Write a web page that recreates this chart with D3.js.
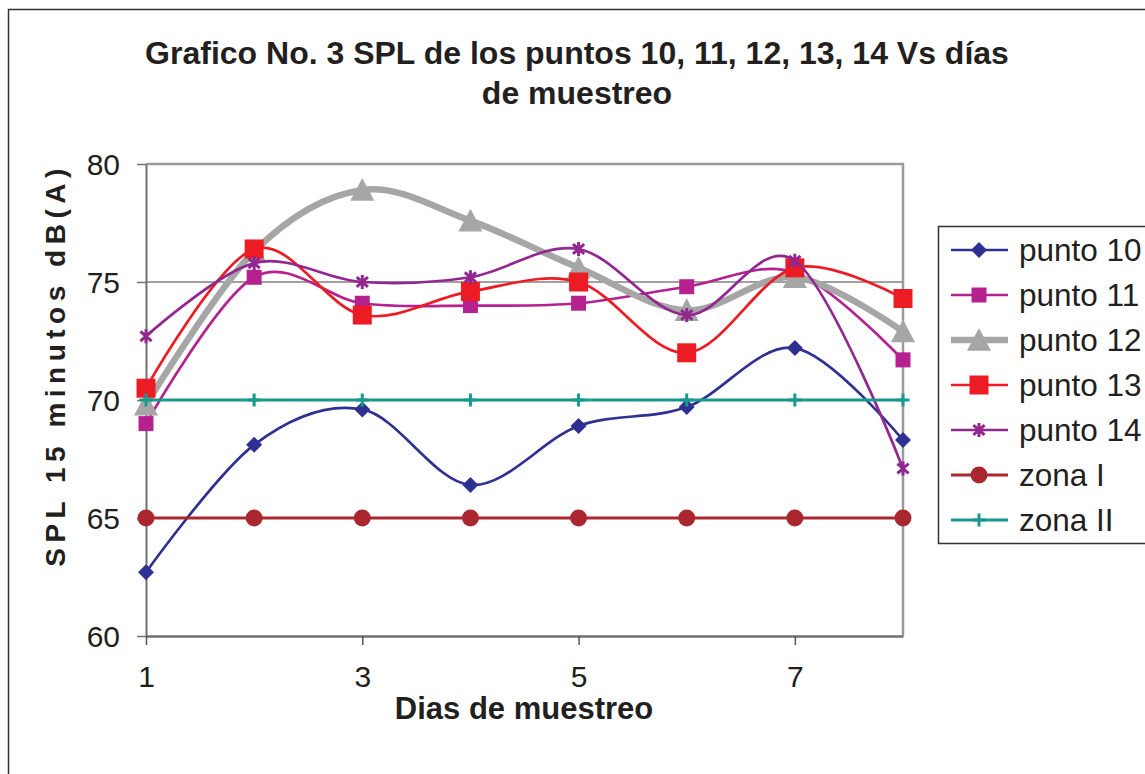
<!DOCTYPE html>
<html>
<head>
<meta charset="utf-8">
<script src="https://cdn.jsdelivr.net/npm/d3@7"></script>
<style>
  body { margin: 0; background: #fff; }
  svg { display: block; font-family: "Liberation Sans", Arial, sans-serif; }
</style>
</head>
<body>
<svg id="chart" width="1145" height="774"></svg>
<script>
// sampling days and tick labels
var days = [1, 2, 3, 4, 5, 6, 7, 8];
var xTicks = [1, 3, 5, 7];
var yTicks = [60, 65, 70, 75, 80];

// SPL values, dB(A)
var punto10 = [62.7, 68.1, 69.6, 66.4, 68.9, 69.7, 72.2, 68.3];
var punto11 = [69.0, 75.2, 74.1, 74.0, 74.1, 74.8, 75.4, 71.7];
var punto12 = [69.8, 76.3, 78.9, 77.6, 75.6, 73.8, 75.2, 72.9];
var punto13 = [70.5, 76.4, 73.6, 74.6, 75.0, 72.0, 75.6, 74.3];
var punto14 = [72.7, 75.8, 75.0, 75.2, 76.4, 73.6, 75.9, 67.1];
var zonaI   = [65, 65, 65, 65, 65, 65, 65, 65];
var zonaII  = [70, 70, 70, 70, 70, 70, 70, 70];

var seriesNames = ["punto 10", "punto 11", "punto 12", "punto 13", "punto 14", "zona I", "zona II"];
var seriesValues = [punto10, punto11, punto12, punto13, punto14, zonaI, zonaII];

// look of each series
var styles = [
    { color: "#2e3192", width: 2.7, shape: "diamond", size: 8 },
    { color: "#b5228f", width: 2.7, shape: "square", size: 7.5 },
    { color: "#a6a6a6", width: 6.5, shape: "triangle", size: 12 },
    { color: "#ed1c24", width: 2.7, shape: "square", size: 9.5 },
    { color: "#92278f", width: 2.7, shape: "asterisk", size: 7 },
    { color: "#ab2730", width: 3, shape: "circle", size: 8.5 },
    { color: "#1a9a8f", width: 3, shape: "plus", size: 6.5 }
];

var svg = d3.select("#chart");

// outer chart frame
svg.append("rect")
    .attr("x", 8.5).attr("y", 9.5)
    .attr("width", 1160).attr("height", 800)
    .attr("fill", "#fff")
    .attr("stroke", "#333")
    .attr("stroke-width", 1.5);

// title
var title = svg.append("text")
    .attr("text-anchor", "middle")
    .attr("font-weight", "bold")
    .attr("font-size", "32px")
    .attr("fill", "#231f20");
title.append("tspan").attr("x", 577).attr("y", 64).text("Grafico No. 3 SPL de los puntos 10, 11, 12, 13, 14 Vs días");
title.append("tspan").attr("x", 577).attr("y", 104).text("de muestreo");

var margin = { left: 146, right: 903, top: 164, bottom: 636 };

var x = d3.scaleLinear()
    .domain([1, 8])
    .range([margin.left, margin.right]);

var y = d3.scaleLinear()
    .domain([60, 80])
    .range([margin.bottom, margin.top]);

// gridlines
svg.append("g")
    .selectAll("line")
    .data(yTicks.slice(1, 4))
    .enter()
    .append("line")
    .attr("x1", margin.left).attr("x2", margin.right)
    .attr("y1", function (d) { return y(d); })
    .attr("y2", function (d) { return y(d); })
    .attr("stroke", "#808080")
    .attr("stroke-width", 1.5);

// plot area border (top and right)
svg.append("path")
    .attr("d", "M" + margin.left + "," + margin.top + "H" + margin.right + "V" + margin.bottom)
    .attr("fill", "none")
    .attr("stroke", "#9a9a9a")
    .attr("stroke-width", 2.5);

// Y axis
var yAxis = svg.append("g")
    .attr("transform", "translate(" + margin.left + ",0)")
    .call(d3.axisLeft(y).tickValues(yTicks).tickSize(9).tickPadding(17).tickSizeOuter(0));
yAxis.select(".domain").attr("stroke", "#707070").attr("stroke-width", 2);
yAxis.selectAll(".tick line").attr("stroke", "#707070").attr("stroke-width", 1.5);
yAxis.selectAll(".tick text")
    .attr("font-size", "30px")
    .attr("font-family", "Liberation Sans, Arial, sans-serif")
    .attr("fill", "#231f20")
    .attr("dy", "0.35em");

// X axis
var xAxis = svg.append("g")
    .attr("transform", "translate(0," + margin.bottom + ")")
    .call(d3.axisBottom(x).tickValues(xTicks).tickSize(9).tickSizeOuter(0).tickFormat(d3.format("d")));
xAxis.select(".domain").attr("stroke", "#707070").attr("stroke-width", 2.5);
xAxis.selectAll(".tick line").attr("stroke", "#555").attr("stroke-width", 1.5);
xAxis.selectAll(".tick text")
    .attr("font-size", "30px")
    .attr("font-family", "Liberation Sans, Arial, sans-serif")
    .attr("fill", "#231f20")
    .attr("y", 51)
    .attr("dy", 0);

// axis titles
svg.append("text")
    .attr("x", 524).attr("y", 719)
    .attr("text-anchor", "middle")
    .attr("font-weight", "bold")
    .attr("font-size", "31px")
    .attr("fill", "#231f20")
    .text("Dias de muestreo");

svg.append("text")
    .attr("transform", "translate(65,365) rotate(-90)")
    .attr("text-anchor", "middle")
    .attr("font-weight", "bold")
    .attr("font-size", "28px")
    .attr("letter-spacing", "5.5px")
    .attr("fill", "#231f20")
    .text("SPL 15 minutos dB(A)");

// marker path for a shape centred at 0,0
var markerPath = function (shape, s) {
    if (shape === "diamond") return "M0," + (-s) + "L" + s + ",0L0," + s + "L" + (-s) + ",0Z";
    if (shape === "square") return "M" + (-s) + "," + (-s) + "H" + s + "V" + s + "H" + (-s) + "Z";
    if (shape === "triangle") return "M0," + (-s) + "L" + s + "," + (s * 0.9) + "H" + (-s) + "Z";
    if (shape === "circle") return d3.arc()({ innerRadius: 0, outerRadius: s, startAngle: 0, endAngle: 2 * Math.PI });
    if (shape === "plus") return "M" + (-s) + ",0H" + s + "M0," + (-s) + "V" + s;
    if (shape === "asterisk") {
        var a = s * 0.8, b = s * 0.7;
        return "M0," + (-s) + "V" + s + "M" + (-a) + "," + (-b) + "L" + a + "," + b + "M" + (-a) + "," + b + "L" + a + "," + (-b);
    }
};
var isStroke = function (shape) { return shape === "plus" || shape === "asterisk"; };

var line = d3.line()
    .x(function (d, i) { return x(days[i]); })
    .y(function (d) { return y(d); })
    .curve(d3.curveCardinal.tension(0));

// series
seriesValues.forEach(function (vals, k) {
    var st = styles[k];
    var g = svg.append("g");
    g.append("path")
        .attr("d", line(vals))
        .attr("fill", "none")
        .attr("stroke", st.color)
        .attr("stroke-width", st.width)
        .attr("stroke-linejoin", "round");
    g.selectAll(".m")
        .data(vals)
        .enter()
        .append("path")
        .attr("transform", function (d, i) { return "translate(" + x(days[i]) + "," + y(d) + ")"; })
        .attr("d", markerPath(st.shape, st.size))
        .attr("fill", isStroke(st.shape) ? "none" : st.color)
        .attr("stroke", isStroke(st.shape) ? st.color : "none")
        .attr("stroke-width", 3);
});

// legend
var legend = svg.append("g");
legend.append("rect")
    .attr("x", 938.5).attr("y", 226.5)
    .attr("width", 230).attr("height", 317)
    .attr("fill", "#fff")
    .attr("stroke", "#333")
    .attr("stroke-width", 1.5);

var rows = legend.selectAll(".row")
    .data(seriesNames)
    .enter()
    .append("g")
    .attr("transform", function (d, i) { return "translate(0," + (250 + i * 45) + ")"; });

rows.append("line")
    .attr("x1", 951).attr("x2", 1008)
    .attr("stroke", function (d, i) { return styles[i].color; })
    .attr("stroke-width", function (d, i) { return styles[i].width; });

rows.append("path")
    .attr("transform", "translate(979,0)")
    .attr("d", function (d, i) { return markerPath(styles[i].shape, styles[i].size); })
    .attr("fill", function (d, i) { return isStroke(styles[i].shape) ? "none" : styles[i].color; })
    .attr("stroke", function (d, i) { return isStroke(styles[i].shape) ? styles[i].color : "none"; })
    .attr("stroke-width", 3);

rows.append("text")
    .attr("x", 1019)
    .attr("dy", "0.35em")
    .attr("font-size", "31.5px")
    .attr("fill", "#231f20")
    .text(function (d) { return d; });
</script>
</body>
</html>
